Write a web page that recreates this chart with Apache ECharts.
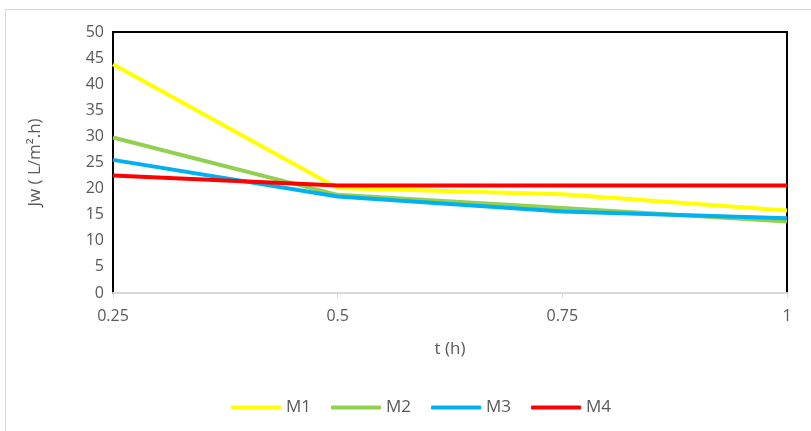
<!DOCTYPE html>
<html><head><meta charset="utf-8">
<script src="https://cdn.jsdelivr.net/npm/echarts@6/dist/echarts.min.js"></script>
<style>html,body{margin:0;padding:0;background:#fff}#c{width:811px;height:431px}</style>
</head><body><div id="c"></div>
<script>
const categories = ['0.25', '0.5', '0.75', '1'];
const M1 = [43.8, 20.1, 18.9, 15.8];
const M2 = [29.8, 18.8, 16.3, 13.7];
const M3 = [25.5, 18.5, 15.6, 14.3];
const M4 = [22.5, 20.6, 20.6, 20.6];
const yTicks = { min: 0, max: 50, interval: 5 };

const font = '"Open Sans", sans-serif';
const txt = '#595959';
const chart = echarts.init(document.getElementById('c'), null, { renderer: 'canvas' });
const mk = (name, data, color) => ({
  name, type: 'line', data, symbol: 'none', smooth: false,
  lineStyle: { color, width: 4 }, itemStyle: { color }, z: 3
});
chart.setOption({
  animation: false,
  graphic: [{ type: 'rect', shape: { x: 5.5, y: 9.5, width: 820, height: 430 },
    style: { fill: 'none', stroke: '#d9d9d9', lineWidth: 1 }, z: -1 }],
  grid: { left: 113, top: 32, right: 24, bottom: 138, show: true, borderColor: '#000', borderWidth: 2, backgroundColor: 'transparent' },
  xAxis: {
    type: 'category', data: categories, boundaryGap: false,
    name: 't (h)', nameLocation: 'middle', nameGap: 48,
    nameTextStyle: { color: txt, fontSize: 17, fontFamily: font },
    axisLine: { show: true, lineStyle: { color: '#d9d9d9', width: 2 } },
    axisTick: { show: true, length: 5, lineStyle: { color: '#d9d9d9' } },
    axisLabel: { color: txt, fontSize: 16, fontFamily: font, margin: 15 },
    splitLine: { show: false }, z: 5
  },
  yAxis: {
    type: 'value', min: yTicks.min, max: yTicks.max, interval: yTicks.interval,
    name: 'Jw ( L/m².h)', nameLocation: 'middle', nameGap: 69, nameRotate: 90,
    nameTextStyle: { color: txt, fontSize: 17, fontFamily: font },
    axisLine: { show: false }, axisTick: { show: false },
    axisLabel: { color: txt, fontSize: 16, fontFamily: font, margin: 9 },
    splitLine: { show: false }
  },
  legend: {
    top: 394, left: 226, itemWidth: 50, itemHeight: 4, itemGap: 20,
    icon: 'roundRect',
    textStyle: { color: txt, fontSize: 17, fontFamily: font },
    data: ['M1', 'M2', 'M3', 'M4']
  },
  series: [mk('M1', M1, '#ffff00'), mk('M2', M2, '#92d050'), mk('M3', M3, '#00b0f0'), mk('M4', M4, '#ff0000')]
});
</script></body></html>
